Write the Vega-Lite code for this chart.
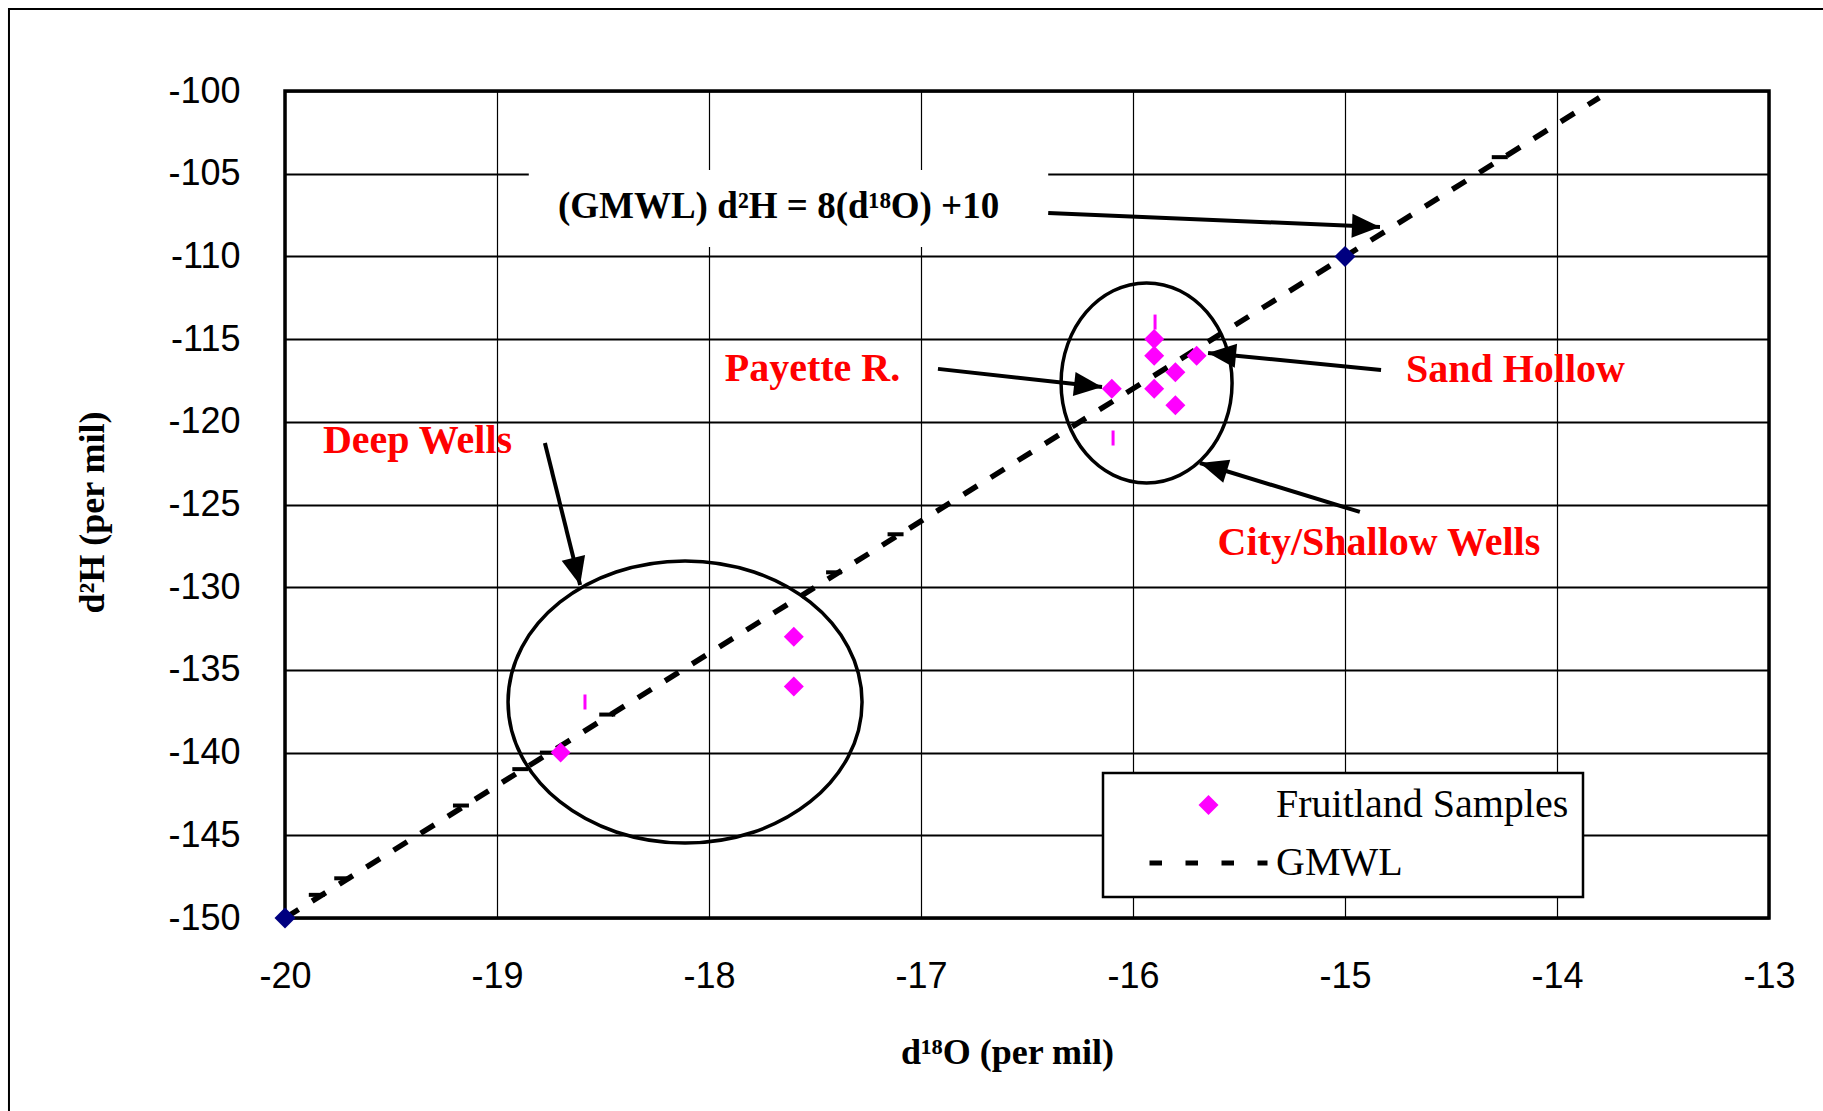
{
  "$schema": "https://vega.github.io/schema/vega-lite/v6.json",
  "width": 1484,
  "height": 827,
  "autosize": "none",
  "padding": {"left": 285, "top": 91, "right": 54, "bottom": 193},
  "background": "white",
  "config": {
    "view": {"stroke": "black", "strokeWidth": 3.5},
    "legend": {"strokeWidth": 2.5},
    "axis": {
      "labelFont": "Liberation Sans",
      "labelFontSize": 36,
      "labelColor": "black",
      "ticks": false,
      "tickSize": 0,
      "domain": false,
      "grid": true,
      "gridColor": "black",
      "gridOpacity": 1,
      "labelFlush": false,
      "labelOverlap": false,
      "labelBound": false,
      "titleFont": "Liberation Serif",
      "titleFontWeight": "bold",
      "titleFontSize": 36,
      "titleColor": "black"
    },
    "axisX": {"gridWidth": 1.2, "labelPadding": 41, "titleX": 722, "titleY": 145, "titleBaseline": "alphabetic", "titleAlign": "center"},
    "axisY": {"gridWidth": 2, "labelPadding": 45, "titleX": -193, "titleY": 421, "titleAngle": -90, "titleAlign": "center", "titleBaseline": "middle"}
  },
  "datasets": {
    "samples": [
      {"d18O": -16.1, "d2H": -118, "series": "Fruitland Samples"},
      {"d18O": -15.9, "d2H": -115, "series": "Fruitland Samples"},
      {"d18O": -15.9, "d2H": -116, "series": "Fruitland Samples"},
      {"d18O": -15.9, "d2H": -118, "series": "Fruitland Samples"},
      {"d18O": -15.8, "d2H": -117, "series": "Fruitland Samples"},
      {"d18O": -15.8, "d2H": -119, "series": "Fruitland Samples"},
      {"d18O": -15.7, "d2H": -116, "series": "Fruitland Samples"},
      {"d18O": -18.7, "d2H": -140, "series": "Fruitland Samples"},
      {"d18O": -17.6, "d2H": -133, "series": "Fruitland Samples"},
      {"d18O": -17.6, "d2H": -136, "series": "Fruitland Samples"}
    ],
    "gmwl": [
      {"d18O": -20, "d2H": -150, "series": "GMWL"},
      {"d18O": -13.8, "d2H": -100.4, "series": "GMWL"}
    ],
    "gmwlPoints": [
      {"d18O": -20, "d2H": -150},
      {"d18O": -15, "d2H": -110}
    ],
    "ellipseDeep": [{"d18O": -18.113, "d2H": -136.94}],
    "ellipseCity": [{"d18O": -15.936, "d2H": -117.65}],
    "arrows": [
      {"d18O": -16.40, "d2H": -107.38, "d18O_end": -14.835, "d2H_end": -108.22},
      {"d18O": -18.774, "d2H": -121.28, "d18O_end": -18.608, "d2H_end": -129.87},
      {"d18O": -16.92, "d2H": -116.8, "d18O_end": -16.146, "d2H_end": -117.9},
      {"d18O": -14.83, "d2H": -116.87, "d18O_end": -15.646, "d2H_end": -115.84},
      {"d18O": -14.93, "d2H": -125.45, "d18O_end": -15.684, "d2H_end": -122.49}
    ],
    "labels": [
      {"text": "Deep Wells", "d18O": -19.375, "d2H": -121.89},
      {"text": "Payette R.", "d18O": -17.512, "d2H": -117.53},
      {"text": "Sand Hollow", "d18O": -14.196, "d2H": -117.6},
      {"text": "City/Shallow Wells", "d18O": -14.84, "d2H": -128.05}
    ],
    "equation": [{"text": "(GMWL)  d²H = 8(d¹⁸O) +10", "d18O": -17.672, "d2H": -107.68}],
    "eqBox": [{"d18O": -18.85, "d18O_end": -16.40, "d2H": -104.78, "d2H_end": -109.43}],
    "blackDashes": [
      {"d18O": -14.27, "d2H": -104},
      {"d18O": -17.12, "d2H": -126.8},
      {"d18O": -17.41, "d2H": -129.1},
      {"d18O": -18.48, "d2H": -137.7},
      {"d18O": -18.76, "d2H": -140.0},
      {"d18O": -18.89, "d2H": -141.0},
      {"d18O": -19.17, "d2H": -143.2},
      {"d18O": -19.73, "d2H": -147.6},
      {"d18O": -19.85, "d2H": -148.6}
    ],
    "magentaTicks": [
      {"d18O": -15.896, "d2H": -113.97},
      {"d18O": -16.094, "d2H": -120.98},
      {"d18O": -18.585, "d2H": -136.94}
    ],
    "frame": [{"d18O": -21.302, "d18O_end": -12.6, "d2H": -95.04, "d2H_end": -162}]
  },
  "encoding": {
    "x": {
      "field": "d18O",
      "type": "quantitative",
      "title": "d¹⁸O (per mil)",
      "scale": {"domain": [-20, -13], "nice": false, "zero": false},
      "axis": {"values": [-20, -19, -18, -17, -16, -15, -14, -13], "labelExpr": "'' + datum.value"}
    },
    "y": {
      "field": "d2H",
      "type": "quantitative",
      "title": "d²H (per mil)",
      "scale": {"domain": [-150, -100], "nice": false, "zero": false},
      "axis": {"values": [-150, -145, -140, -135, -130, -125, -120, -115, -110, -105, -100], "labelExpr": "'' + datum.value"}
    }
  },
  "layer": [
    {
      "data": {"name": "frame"},
      "mark": {"type": "rect", "fill": null, "filled": false, "stroke": "black", "strokeWidth": 2, "clip": false},
      "encoding": {
        "x2": {"field": "d18O_end"},
        "y2": {"field": "d2H_end"}
      }
    },
    {
      "data": {"name": "eqBox"},
      "mark": {"type": "rect", "fill": "white", "stroke": null},
      "encoding": {
        "x2": {"field": "d18O_end"},
        "y2": {"field": "d2H_end"}
      }
    },
    {
      "data": {"name": "ellipseDeep"},
      "mark": {
        "type": "point",
        "filled": false,
        "color": "black",
        "strokeWidth": 3.5,
        "opacity": 1,
        "size": 125316,
        "shape": "M-1,0 C-1,-0.4402 -0.5523,-0.797 0,-0.797 C0.5523,-0.797 1,-0.4402 1,0 C1,0.4402 0.5523,0.797 0,0.797 C-0.5523,0.797 -1,0.4402 -1,0 Z"
      }
    },
    {
      "data": {"name": "ellipseCity"},
      "mark": {
        "type": "point",
        "filled": false,
        "color": "black",
        "strokeWidth": 3.5,
        "opacity": 1,
        "size": 29241,
        "shape": "M-1,0 C-1,-0.646 -0.5523,-1.17 0,-1.17 C0.5523,-1.17 1,-0.646 1,0 C1,0.646 0.5523,1.17 0,1.17 C-0.5523,1.17 -1,0.646 -1,0 Z"
      }
    },
    {
      "data": {"name": "gmwl"},
      "mark": {"type": "line", "color": "black", "strokeWidth": 5.5, "strokeDash": [16, 16], "strokeCap": "butt"}
    },
    {
      "data": {"name": "blackDashes"},
      "mark": {"type": "tick", "orient": "horizontal", "size": 16, "thickness": 4, "color": "black", "opacity": 1}
    },
    {
      "data": {"name": "magentaTicks"},
      "mark": {"type": "tick", "orient": "vertical", "size": 15, "thickness": 3, "color": "#FF00FF", "opacity": 1}
    },
    {
      "data": {"name": "arrows"},
      "mark": {"type": "rule", "color": "black", "strokeWidth": 4, "strokeCap": "butt"},
      "encoding": {
        "x2": {"field": "d18O_end"},
        "y2": {"field": "d2H_end"}
      }
    },
    {
      "data": {"name": "arrows"},
      "transform": [
        {"calculate": "atan2(-(datum.d2H_end - datum.d2H) * 16.54, (datum.d18O_end - datum.d18O) * 212) * 180 / PI", "as": "dir"}
      ],
      "mark": {
        "type": "point",
        "filled": true,
        "color": "black",
        "opacity": 1,
        "size": 784,
        "shape": "M0,0 L-2,-0.86 L-2,0.86 Z"
      },
      "encoding": {
        "x": {"field": "d18O_end", "type": "quantitative", "title": "d¹⁸O (per mil)"},
        "y": {"field": "d2H_end", "type": "quantitative", "title": "d²H (per mil)"},
        "angle": {"field": "dir", "type": "quantitative", "scale": null}
      }
    },
    {
      "data": {"name": "gmwlPoints"},
      "mark": {"type": "point", "shape": "diamond", "filled": true, "color": "#000080", "opacity": 1, "size": 440}
    },
    {
      "data": {"name": "samples"},
      "mark": {"type": "point", "filled": true, "opacity": 1, "strokeWidth": 5},
      "encoding": {
        "shape": {
          "field": "series",
          "type": "nominal",
          "scale": {"domain": ["Fruitland Samples", "GMWL"], "range": ["diamond", "stroke"]}
        },
        "size": {
          "field": "series",
          "type": "ordinal",
          "scale": {"domain": ["Fruitland Samples", "GMWL"], "range": [400, 13924]}
        },
        "stroke": {
          "field": "series",
          "type": "nominal",
          "scale": {"domain": ["Fruitland Samples", "GMWL"], "range": ["transparent", "#000000"]}
        },
        "color": {
          "field": "series",
          "type": "nominal",
          "scale": {"domain": ["Fruitland Samples", "GMWL"], "range": ["#FF00FF", "#000000"]},
          "legend": {
            "title": null,
            "orient": "none",
            "legendX": 818,
            "legendY": 682,
            "padding": 14,
            "strokeColor": "black",
            "fillColor": "white",
            "labelFont": "Liberation Serif",
            "labelFontSize": 40,
            "labelColor": "black",
            "labelBaseline": "middle",
            "labelLimit": 0,
            "clipHeight": 36,
            "rowPadding": 18,
            "symbolOffset": 30,
            "labelOffset": 6,
            "symbolDash": [12.5, 23.5],
            "symbolStrokeWidth": 5,
            "symbolOpacity": 1
          }
        }
      }
    },
    {
      "data": {"name": "labels"},
      "mark": {"type": "text", "font": "Liberation Serif", "fontWeight": "bold", "fontSize": 40, "color": "#FF0000", "align": "center", "baseline": "alphabetic"},
      "encoding": {"text": {"field": "text"}}
    },
    {
      "data": {"name": "equation"},
      "mark": {"type": "text", "font": "Liberation Serif", "fontWeight": "bold", "fontSize": 37, "color": "black", "align": "center", "baseline": "alphabetic"},
      "encoding": {"text": {"field": "text"}}
    }
  ]
}
